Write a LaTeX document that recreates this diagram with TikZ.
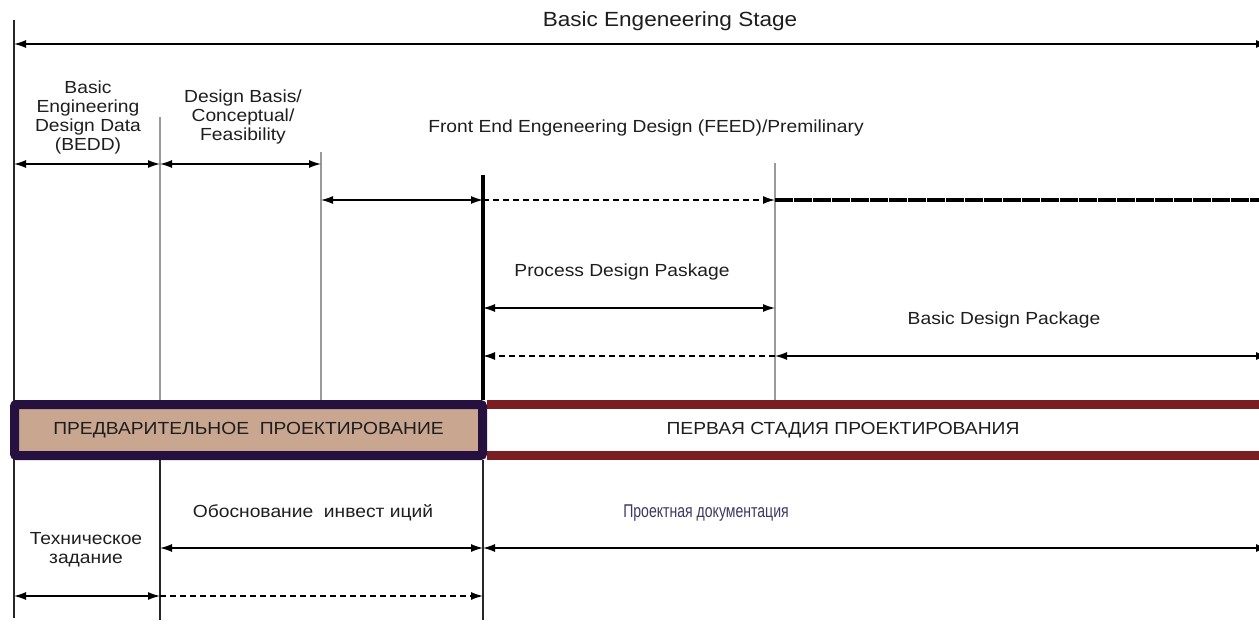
\documentclass[tikz,border=0pt]{standalone}
\usepackage{fontspec}
\setmainfont{Liberation Sans}[FakeStretch=1.1]
\newfontfamily\narrowf{Liberation Sans}[FakeStretch=0.76]
\usetikzlibrary{arrows.meta}
\definecolor{navy}{HTML}{26103F}
\definecolor{tanfill}{HTML}{C9A690}
\definecolor{darkred}{HTML}{7B1E22}
\definecolor{vgray}{HTML}{9A9A9A}
\definecolor{txt}{HTML}{1E1E1E}
\definecolor{bluetxt}{HTML}{3A3A62}
\begin{document}
\begin{tikzpicture}[x=1pt,y=-1pt,
  arr/.style={line width=1.3pt,-{Latex[length=12pt,width=8pt]}},
  darr/.style={line width=1.3pt,{Latex[length=12pt,width=8pt]}-{Latex[length=12pt,width=8pt]}},
  dsh/.style={dash pattern=on 6pt off 4pt},
  lbl/.style={font=\fontsize{17.5}{19}\selectfont, align=center, inner sep=0pt, text=txt},
  vline/.style={line width=2pt, draw=vgray},
  dline/.style={line width=1.5pt, draw=black!85}]
\clip (0,0) rectangle (1259,625);
\fill[white] (0,0) rectangle (1259,625);

% coordinates
\coordinate (L0) at (14,44);   \coordinate (E0) at (1268,44);
\coordinate (L1) at (14,164);  \coordinate (B1) at (160,164); \coordinate (C1) at (321,164);
\coordinate (C2) at (321,200); \coordinate (F2) at (483,200); \coordinate (G2) at (775,200); \coordinate (E2) at (1259,200);
\coordinate (F3) at (483,308); \coordinate (G3) at (775,308);
\coordinate (F4) at (483,356); \coordinate (G4) at (775,356); \coordinate (E4) at (1268,356);
\coordinate (B5) at (160,548); \coordinate (F5) at (483,548); \coordinate (E5) at (1268,548);
\coordinate (L6) at (14,596);  \coordinate (B6) at (160,596); \coordinate (F6) at (483,596);
% vertical line ends
\coordinate (vLt) at (14,20);  \coordinate (vLb) at (14,618);
\coordinate (vBt) at (160,117); \coordinate (vBm) at (160,400); \coordinate (vBb) at (160,620);
\coordinate (vCt) at (321,152); \coordinate (vCb) at (321,400);
\coordinate (vFt) at (483,175); \coordinate (vFm) at (483,400); \coordinate (vFn) at (483,460); \coordinate (vFb) at (483,620);
\coordinate (vGt) at (775,163); \coordinate (vGb) at (775,400);
\coordinate (rb1a) at (487,404.5); \coordinate (rb1b) at (1259,404.5);
\coordinate (rb2a) at (487,455.5); \coordinate (rb2b) at (1259,455.5);

% vertical lines
\draw[dline] (vLt) -- (vLb);
\draw[vline] (vBt) -- (vBm);
\draw[dline] (vBm) -- (vBb);
\draw[vline] (vCt) -- (vCb);
\draw[line width=4pt] (vFt) -- (vFm);
\draw[dline] (vFn) -- (vFb);
\draw[vline] (vGt) -- (vGb);

% texts
\node[lbl, font=\fontsize{20.5}{22}\selectfont] (title) at (670,21) {Basic Engeneering Stage};
\node[lbl] (bedd) at (88,117) {Basic\\Engineering\\Design Data\\(BEDD)};
\node[lbl] (dbas) at (243,117) {Design Basis/\\Conceptual/\\Feasibility};
\node[lbl] (feed) at (646,128) {Front End Engeneering Design (FEED)/Premilinary};
\node[lbl] (pdp) at (622,272) {Process Design Paskage};
\node[lbl] (bdp) at (1004,320) {Basic Design Package};
\node[lbl] (obos) at (313,513) {Обоснование~~инвест иций};
\node[lbl] (tekh) at (86,550) {Техническое\\задание};
\node[lbl, font=\narrowf\fontsize{18.5}{20}\selectfont, text=bluetxt] (proekt) at (706,513) {Проектная документация};

% arrows
\draw[darr] (L0) -- (E0);
\draw[darr] (L1) -- (B1);
\draw[darr] (B1) -- (C1);
\draw[darr] (C2) -- (F2);
\draw[arr, dsh] (F2) -- (G2);
\draw[line width=4.5pt, dash pattern=on 18pt off 1pt] (G2) -- (E2);
\draw[darr] (F3) -- (G3);
\draw[arr, dsh] (G4) -- (F4);
\draw[darr] (G4) -- (E4);
\draw[darr] (B5) -- (F5);
\draw[darr] (F5) -- (E5);
\draw[darr] (L6) -- (B6);
\draw[arr, dsh] (B6) -- (F6);

% bands
\draw[darkred, line width=9pt] (rb1a) -- (rb1b);
\draw[darkred, line width=9pt] (rb2a) -- (rb2b);
\node[lbl] (perv) at (843,430) {ПЕРВАЯ СТАДИЯ ПРОЕКТИРОВАНИЯ};
\node[draw=navy, line width=9pt, fill=tanfill, rounded corners=2pt, minimum width=468pt, minimum height=51pt, inner sep=0pt, font=\fontsize{17.5}{19}\selectfont, text=txt] (pred) at (248.5,430) {ПРЕДВАРИТЕЛЬНОЕ~~ПРОЕКТИРОВАНИЕ};
\end{tikzpicture}
\end{document}
